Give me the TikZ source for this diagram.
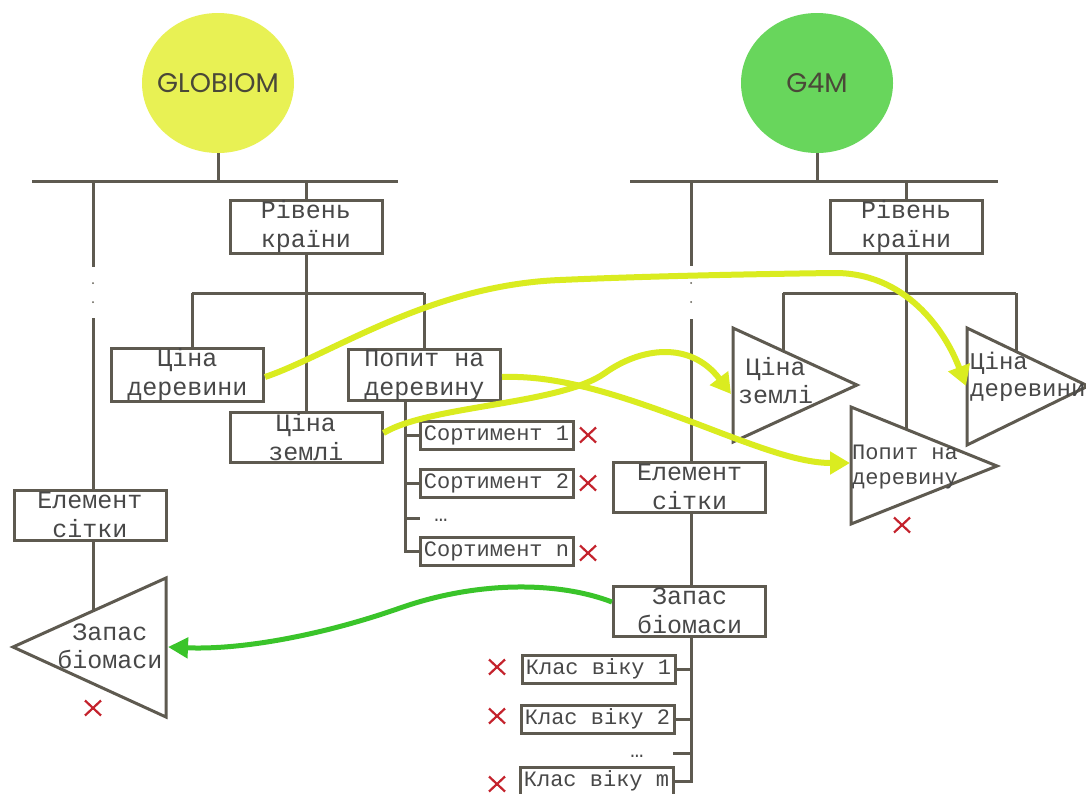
\documentclass[tikz,border=0pt]{standalone}
\usepackage{fontspec}
\setmainfont{Liberation Mono}
\newfontfamily\modelfont{Poppins}
\usetikzlibrary{arrows.meta,shapes.geometric}
\definecolor{wirec}{RGB}{94,90,80}
\definecolor{txtc}{RGB}{72,72,72}
\definecolor{modeltxt}{RGB}{74,72,56}
\definecolor{globfill}{RGB}{232,241,84}
\definecolor{gfmfill}{RGB}{104,214,92}
\definecolor{flowyel}{RGB}{218,236,32}
\definecolor{flowgrn}{RGB}{58,196,42}
\definecolor{xred}{RGB}{196,34,44}

\begin{document}
\begin{tikzpicture}[x=1pt,y=-1pt,
  wire/.style={draw=wirec,line width=3pt},
  box/.style={draw=wirec,line width=3pt,fill=white,inner sep=0pt,text=txtc,align=center,font=\fontsize{25}{29}\selectfont},
  bigbox/.style={box,minimum width=152pt,minimum height=50pt},
  smallbox/.style={box,minimum width=153pt,minimum height=28pt,font=\fontsize{22}{26}\selectfont},
  tri/.style={draw=wirec,line width=3pt,fill=white,line join=miter},
  tritext/.style={text=txtc,inner sep=0pt,font=\fontsize{25}{28}\selectfont},
  dotstext/.style={text=txtc,inner sep=0pt,font=\fontsize{22}{26}\selectfont},
  model/.style={ellipse,minimum width=152pt,minimum height=140pt,inner sep=0pt,
    label={[text=modeltxt,inner sep=0pt,font=\modelfont\fontsize{27}{30}\selectfont]center:#1}},
  gapdot/.style={circle,fill=wirec,inner sep=0pt,minimum size=2pt},
  yflow/.style={draw=flowyel,line width=6pt,-{Triangle[length=20pt,width=22pt]}},
  gflow/.style={draw=flowgrn,line width=5pt,-{Triangle[length=20pt,width=20pt]}},
  redx/.pic={\draw[xred,line width=2.2pt] (-8,-7.5) -- (8,7.5) (-8,7.5) -- (8,-7.5);}
]
\fill[white] (0,0) rectangle (1086,793);
\useasboundingbox (0,0) rectangle (1086,793);

% ---------------- model heads
\node[model=GLOBIOM,fill=globfill] (globiom) at (218,83) {};
\node[model=G4M,fill=gfmfill] (gfm) at (817,83) {};

% ================= GLOBIOM side
\coordinate (busAw) at (32,181);
\coordinate (busAe) at (398,181);
\draw[wire] (busAw) -- (busAe);
\draw[wire] (globiom.south) -- (globiom.south |- busAw);

% country level
\node[bigbox] (rivA) at (306,227) {Рівень\\країни};
\draw[wire] (rivA.north |- busAw) -- (rivA.north);
\coordinate (busBw) at (192,293);
\coordinate (busBe) at (424,293);
\draw[wire] (busBw) -- (busBe);
\node[bigbox] (cdA) at (187.5,375) {Ціна\\деревини};
\node[bigbox] (czA) at (306,437) {Ціна\\землі};
\node[bigbox] (pdA) at (424.5,375) {Попит на\\деревину};
\draw[wire] (rivA.south) -- (czA.north);
\draw[wire] (busBw) -- (busBw |- cdA.north);
\draw[wire] (busBe) -- (busBe |- pdA.north);

% assortments
\node[smallbox] (s1) at (496.5,435) {Сортимент 1};
\node[smallbox] (s2) at (496.5,483) {Сортимент 2};
\node[smallbox] (sn) at (496.5,551) {Сортимент n};
\node[dotstext,anchor=base] (sdots) at (441,521) {…};
\coordinate (sx) at (405,0);
\coordinate (sdotstub) at (420,518);
\draw[wire] (sx |- pdA.south) -- (sx |- sn.west) -- (sn.west);
\draw[wire] (sx |- s1.west) -- (s1.west);
\draw[wire] (sx |- s2.west) -- (s2.west);
\draw[wire] (sx |- sdotstub) -- (sdotstub);
\pic at (588,435) {redx};
\pic at (588,483) {redx};
\pic at (588,553) {redx};

% grid cell branch
\coordinate (gA) at (93,0);
\coordinate (gapAtop) at (93,267);
\coordinate (gapAbot) at (93,318);
\node[bigbox] (elA) at (90,515) {Елемент\\сітки};
\draw[wire] (gA |- busAw) -- (gapAtop);
\node[gapdot] (gdA1) at (93,283) {};
\node[gapdot] (gdA2) at (93,302) {};
\draw[wire] (gapAbot) -- (gA |- elA.north);

% biomass stock (triangle)
\coordinate (tbA) at (13,647);
\coordinate (tbB) at (166,578);
\coordinate (tbC) at (166,717);
\draw[tri] (tbA) -- (tbB) -- (tbC) -- cycle;
\node[tritext,align=center] (zbA) at (110,646) {Запас\\біомаси};
\coordinate (tbHook) at (93,610);
\coordinate (tbIn) at (168,647);
\draw[wire] (gA |- elA.south) -- (tbHook);
\pic at (93,708) {redx};

% ================= G4M side
\coordinate (busCw) at (630,181);
\coordinate (busCe) at (998,181);
\draw[wire] (busCw) -- (busCe);
\draw[wire] (gfm.south) -- (gfm.south |- busCw);

% grid cell branch
\coordinate (gB) at (691,0);
\coordinate (gapBtop) at (691,266);
\coordinate (gapBbot) at (691,319);
\node[bigbox] (elB) at (689.5,487) {Елемент\\сітки};
\node[bigbox] (zbB) at (689.5,611) {Запас\\біомаси};
\draw[wire] (gB |- busCw) -- (gapBtop);
\node[gapdot] (gdB1) at (691,283) {};
\node[gapdot] (gdB2) at (691,302) {};
\draw[wire] (gapBbot) -- (gB |- elB.north);
\draw[wire] (gB |- elB.south) -- (gB |- zbB.north);

% age classes
\node[smallbox] (k1) at (598.5,669) {Клас віку 1};
\node[smallbox] (k2) at (597.5,719) {Клас віку 2};
\node[smallbox] (km) at (596.5,781) {Клас віку m};
\node[dotstext,anchor=base] (kdots) at (637,757) {…};
\coordinate (kdotstub) at (673,753);
\draw[wire] (gB |- zbB.south) -- (gB |- km.east) -- (km.east);
\draw[wire] (gB |- k1.east) -- (k1.east);
\draw[wire] (gB |- k2.east) -- (k2.east);
\draw[wire] (gB |- kdotstub) -- (kdotstub);
\pic at (497,667) {redx};
\pic at (497,716) {redx};
\pic at (497,784) {redx};

% country level
\node[bigbox] (rivB) at (906,227) {Рівень\\країни};
\draw[wire] (rivB.north |- busCw) -- (rivB.north);
\coordinate (busDw) at (783,293);
\coordinate (busDe) at (1016,293);
\draw[wire] (busDw) -- (busDe);

% land price (triangle)
\coordinate (tzA) at (733,328);
\coordinate (tzB) at (857,385);
\coordinate (tzC) at (733,442);
\draw[tri] (tzA) -- (tzB) -- (tzC) -- cycle;
\node[tritext,align=center] (tzT) at (775.5,381) {Ціна\\землі};
\coordinate (tzHook) at (783,351);
\coordinate (tzIn) at (731,394);
\draw[wire] (busDw) -- (tzHook);

% wood price (triangle)
\coordinate (trA) at (967,328);
\coordinate (trB) at (1088,386);
\coordinate (trC) at (967,445);
\draw[tri] (trA) -- (trB) -- (trC) -- cycle;
\node[tritext,align=left,anchor=west,font=\fontsize{24}{27}\selectfont] (trT) at (970,377) {Ціна\\деревини};
\coordinate (trHook) at (1016,351.5);
\coordinate (trIn) at (966,386);
\draw[wire] (busDe) -- (trHook);

% wood demand (triangle)
\coordinate (tpA) at (851,407);
\coordinate (tpB) at (997,466);
\coordinate (tpC) at (851,524);
\draw[tri] (tpA) -- (tpB) -- (tpC) -- cycle;
\node[tritext,align=left,anchor=west,font=\fontsize{22}{25}\selectfont] (tpT) at (852,467) {Попит на\\деревину};
\coordinate (tpHook) at (906,429);
\coordinate (tpIn) at (850,463);
\draw[wire] (rivB.south) -- (tpHook);
\pic at (902,525) {redx};

% ================= data flows between the models
\draw[yflow] ([yshift=-2pt]cdA.east) .. controls (330,355) and (430,285) .. (560,280)
  .. controls (650,276) and (760,274) .. (833,273)
  .. controls (905,272) and (945,330) .. (trIn);
\draw[yflow] ([yshift=4pt]czA.east) .. controls (430,405) and (560,405) .. (605,373)
  .. controls (640,348) and (690,340) .. (tzIn);
\draw[yflow] ([yshift=-2pt]pdA.east) .. controls (560,375) and (620,395) .. (700,425)
  .. controls (760,448) and (800,463) .. (tpIn);
\draw[gflow] ([yshift=9pt]zbB.west) .. controls (560,582) and (480,580) .. (400,608)
  .. controls (320,636) and (240,650) .. (tbIn);
\end{tikzpicture}
\end{document}
